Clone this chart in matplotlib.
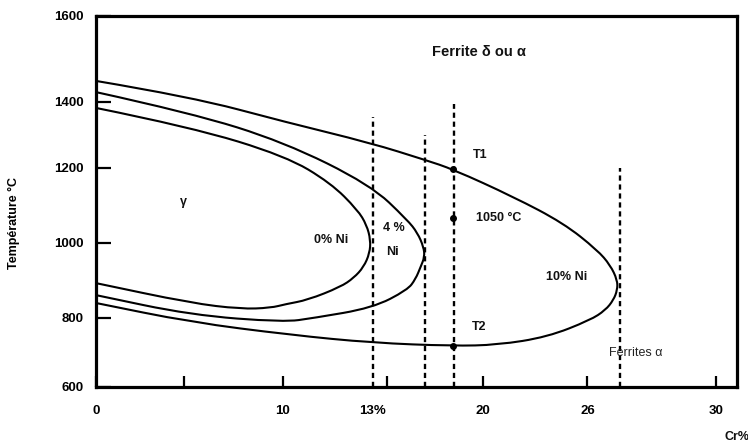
import numpy as np
import matplotlib
matplotlib.use("Agg")
import matplotlib.pyplot as plt
from matplotlib.path import Path
from matplotlib.patches import PathPatch
from matplotlib.transforms import IdentityTransform

plt.rcParams['font.family'] = ['Liberation Sans', 'DejaVu Sans']

# ---------------- data (Cr %, temperature °C) ----------------
NI0_CR = [0, 5.35, 10.1, 11.6, 12.5, 12.8, 12.93, 12.9, 12.7, 12.37, 11.93, 10.83, 10.1, 9.39, 7.88, 5.35, 0]
NI0_T = [1382, 1324, 1236, 1160, 1088, 1048, 1008, 973, 936, 907, 883, 848, 837, 827, 824, 840, 893]

NI4_CR = [0, 5.35, 10.03, 12.93, 16.09, 16.61, 16.93, 16.98, 16.77, 16.51, 16.09, 13.0, 11.03, 10.03, 5.35, 0]
NI4_T = [1423, 1367, 1279, 1155, 1061, 1027, 989, 963, 936, 904, 875, 827, 800, 788, 808, 861]

NI10_CR = [0, 5.35, 10.1, 12.93, 17.03, 18.44, 21.77, 24.63, 26.31, 26.71, 26.93, 26.93,
           26.81, 26.56, 26.09, 23.71, 20.86, 18.44, 13.0, 10.27, 5.35, 0]
NI10_T = [1449, 1412, 1339, 1276, 1224, 1197, 1123, 1053, 981, 941, 901, 875,
          848, 821, 794, 745, 722, 719, 728, 751, 788, 840]

VLINE_CR = [13.0, 17.0, 18.5, 27.0]
VLINE_TOP = [1355, 1300, 1395, 1200]
VLINE_BOTTOM = 600

POINT_CR = [18.44, 18.44, 18.44]
POINT_T = [1197, 1066, 719]

X_TICKS = [0, 5, 10, 15, 20, 26, 30]
X_TICKLABELS = ['0', '', '10', '', '20', '26', '30']
X_EXTRA_TICK = [13]
X_EXTRA_LABEL = ['13%']
Y_TICKS = [600, 800, 1000, 1200, 1400, 1600]
Y_TICKLABELS = ['600', '800', '1000', '1200', '1400', '1600']

# ---------------- scale definition (the scanned axes are not evenly spaced) ----------------
X_SCALE_CR = [-2, 0, 5, 10, 13, 15, 20, 26, 30, 32]
X_SCALE_POS = [60, 95, 183, 282, 372, 386, 482, 587, 716, 780]
Y_SCALE_T = [400, 600, 800, 1000, 1200, 1400, 1600, 1800]
Y_SCALE_POS = [525, 387, 318, 243, 168, 102, 16, -156]


def xf(v):
    return np.interp(v, X_SCALE_CR, X_SCALE_POS)


def xi(v):
    return np.interp(v, X_SCALE_POS, X_SCALE_CR)


def yf(v):
    return -np.interp(v, Y_SCALE_T, Y_SCALE_POS)


def yi(v):
    return np.interp(-np.asarray(v), Y_SCALE_POS[::-1], Y_SCALE_T[::-1])


def smooth_curve(pts):
    """Quadratic Bezier path through the midpoints of the points (rounded corners)."""
    verts = [pts[0]]
    codes = [Path.MOVETO]
    for i in range(1, len(pts) - 1):
        mid = (pts[i] + pts[i + 1]) / 2
        verts += [pts[i], mid]
        codes += [Path.CURVE3, Path.CURVE3]
    verts.append(pts[-1])
    codes.append(Path.LINETO)
    return Path(np.array(verts), codes)


fig = plt.figure(figsize=(7.48, 4.46), dpi=100)
ax = fig.add_axes([96 / 748, 1 - 387 / 446, (737 - 96) / 748, (387 - 16) / 446])
ax.set_xscale('function', functions=(xf, xi))
ax.set_yscale('function', functions=(yf, yi))
ax.set_xlim(0, 30.65)
ax.set_ylim(600, 1600)

for cr, t in [(NI0_CR, NI0_T), (NI4_CR, NI4_T), (NI10_CR, NI10_T)]:
    disp = ax.transData.transform(np.column_stack([cr, t]))
    ax.add_artist(PathPatch(smooth_curve(disp), transform=IdentityTransform(),
                            facecolor='none', edgecolor='black', lw=1.5,
                            capstyle='round', joinstyle='round'))

for x, top in zip(VLINE_CR, VLINE_TOP):
    ax.plot([x, x], [VLINE_BOTTOM, top], color='black', lw=1.7, linestyle=(0, (2.2, 1.6)))

ax.plot(POINT_CR, POINT_T, linestyle='none', marker='o', ms=4, color='black')

tf = dict(color='#111111', fontweight='bold')
ax.text(19.8, 1516, 'Ferrite δ ou α', ha='center', va='center', fontsize=10.5, **tf)
ax.text(5.0, 1109, 'γ', ha='center', va='center', fontsize=9, **tf)
ax.text(11.63, 1008, '0% Ni', ha='center', va='center', fontsize=9, **tf)
ax.text(15.36, 1040, '4 %', ha='center', va='center', fontsize=9, **tf)
ax.text(15.31, 976, 'Ni', ha='center', va='center', fontsize=9, **tf)
ax.text(20.9, 1067, '1050 °C', ha='center', va='center', fontsize=9, **tf)
ax.text(19.9, 1239, 'T1', ha='center', va='center', fontsize=9, **tf)
ax.text(19.8, 774, 'T2', ha='center', va='center', fontsize=9, **tf)
ax.text(24.8, 909, '10% Ni', ha='center', va='center', fontsize=9, **tf)
ax.text(27.5, 698, 'Ferrites α', ha='center', va='center', fontsize=9, color='#222222')

ax.text(1.0, -0.135, 'Cr%', transform=ax.transAxes, ha='center', va='center',
        fontsize=9, **tf)
ax.set_ylabel('Température °C', fontsize=9, fontweight='bold')
ax.yaxis.set_label_coords(-0.1186, 0.442)

ax.set_xticks(X_TICKS, labels=X_TICKLABELS)
ax.set_xticks(X_EXTRA_TICK, labels=X_EXTRA_LABEL, minor=True)
ax.set_yticks(Y_TICKS, labels=Y_TICKLABELS)
ax.yaxis.set_minor_locator(matplotlib.ticker.NullLocator())

ax.tick_params(axis='x', which='major', direction='in', length=8, width=1.6, pad=13,
               labelsize=9.5)
ax.tick_params(axis='x', which='minor', direction='in', length=0, pad=13, labelsize=9.5)
ax.tick_params(axis='y', which='major', direction='in', length=10.5, width=1.6, pad=9,
               labelsize=9.5)
for lab in ax.get_xticklabels(which='both') + ax.get_yticklabels():
    lab.set_fontweight('bold')

for s in ax.spines.values():
    s.set_linewidth(2.3)

fig.savefig('out.png', dpi=100)
